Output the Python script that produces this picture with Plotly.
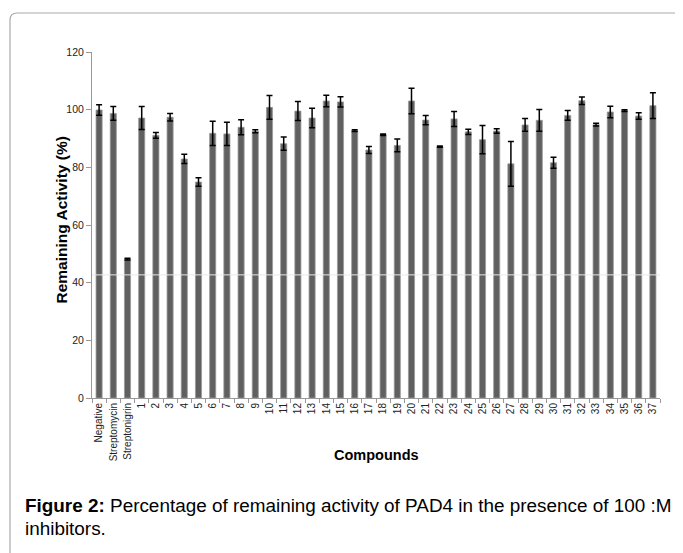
import plotly.graph_objects as go

categories = ["Negative", "Streptomycin", "Streptonigrin"] + [str(i) for i in range(1, 38)]
values = [99.9, 98.7, 48.2, 97.1, 91.1, 97.4, 82.9, 74.9, 91.8, 91.6, 93.9, 92.5,
          100.8, 88.2, 99.5, 97.1, 103.0, 102.7, 92.7, 86.0, 91.3, 87.6, 103.0, 96.4,
          87.2, 96.8, 92.3, 89.6, 92.6, 81.2, 94.7, 96.3, 81.6, 98.0, 103.1, 94.8,
          99.2, 99.7, 97.8, 101.4]
errors = [1.8, 2.4, 0.3, 4.0, 1.0, 1.3, 1.6, 1.5, 4.2, 4.0, 2.6, 0.5,
          4.1, 2.3, 3.3, 3.4, 2.0, 1.8, 0.3, 1.2, 0.3, 2.2, 4.4, 1.6,
          0.2, 2.6, 0.9, 4.9, 0.8, 7.8, 2.2, 3.8, 1.9, 1.7, 1.3, 0.5,
          2.0, 0.3, 1.1, 4.5]
yticks = [0, 20, 40, 60, 80, 100, 120]

OFF = 8  # page body margin
W, H = 683 - OFF, 553 - OFF
# plot area in page pixels: x 92..660, y 52..398
PL, PR, PT, PB = 92, 660, 52, 398
L, T = PL - OFF, PT - OFF
R, B = W - (PR - OFF), H - (PB - OFF)
pw, ph = PR - PL, PB - PT

def px(x):
    return (x - PL) / pw

def py(y):
    return (PB - y) / ph

fig = go.Figure(go.Bar(
    x=categories, y=values,
    marker=dict(color="#606060", line=dict(color="#9a9a9a", width=0.8)),
    error_y=dict(type="data", array=errors, visible=True, color="black", thickness=1.5, width=3),
))

font_axis = "Liberation Sans, Arial, sans-serif"

fig.update_layout(
    width=W, height=H,
    margin=dict(l=L, r=R, t=T, b=B, autoexpand=False),
    paper_bgcolor="white", plot_bgcolor="white",
    bargap=0.57,
    showlegend=False,
    xaxis=dict(type="category", tickangle=-90, tickfont=dict(family=font_axis, size=10, color="#222"),
               showline=True, linecolor="#999", linewidth=1, ticks="outside", ticklen=4,
               tickcolor="#999", tickson="boundaries", showgrid=False),
    yaxis=dict(range=[0, 120], tickvals=yticks, tickfont=dict(family=font_axis, size=10.5, color="#222"),
               showline=True, linecolor="#999", linewidth=1, ticks="outside", ticklen=5,
               tickcolor="#999", showgrid=False, zeroline=False),
    annotations=[
        dict(text="<b>Remaining Activity (%)</b>", xref="paper", yref="paper", x=px(50), y=py(220),
             textangle=-90, showarrow=False, font=dict(family=font_axis, size=15.5, color="black")),
        dict(text="<b>Compounds</b>", xref="paper", yref="paper", x=px(376), y=py(465),
             showarrow=False, font=dict(family=font_axis, size=14.5, color="black")),
        dict(text="<b>Figure 2:</b> Percentage of remaining activity of PAD4 in the presence of 100 :M",
             xref="paper", yref="paper", x=px(23), y=py(505), xanchor="left", yanchor="middle",
             align="left", showarrow=False, font=dict(family=font_axis, size=18.9, color="black")),
        dict(text="inhibitors.",
             xref="paper", yref="paper", x=px(23), y=py(528), xanchor="left", yanchor="middle",
             align="left", showarrow=False, font=dict(family=font_axis, size=18.9, color="black")),
    ],
)

# white artifact line across bars
fig.add_shape(type="line", xref="paper", yref="y", x0=0, x1=1, y0=42.7, y1=42.7,
              line=dict(color="#e8e8e8", width=1), layer="above")

# rounded border around figure
x0, ytop = px(10), py(13)
rx, ry = 7 / pw, 7 / ph
fig.add_shape(type="path", xref="paper", yref="paper",
              path=f"M {x0},{py(620)} L {x0},{ytop - ry} Q {x0},{ytop} {x0 + rx},{ytop} L {px(720)},{ytop}",
              line=dict(color="#aaaaaa", width=1.2))

fig.write_html("out.html")
